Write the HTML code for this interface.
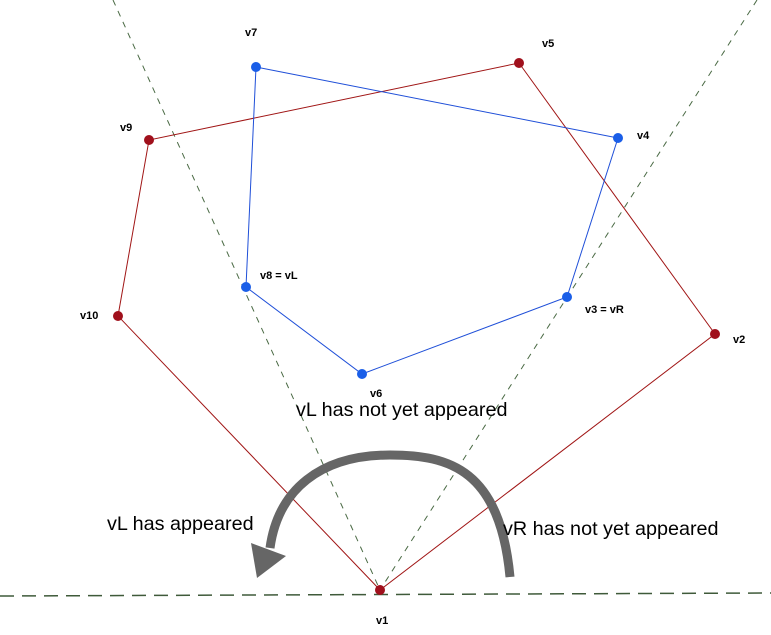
<!DOCTYPE html>
<html><head><style>body{margin:0;background:#fff}svg{display:block}</style></head><body>
<svg width="771" height="635" viewBox="0 0 771 635" xmlns="http://www.w3.org/2000/svg" font-family="Liberation Sans, sans-serif">
<g stroke="#4a6a44" stroke-width="1" stroke-dasharray="6,6" fill="none">
<line x1="113" y1="0" x2="380" y2="590"/>
<line x1="757" y1="0" x2="380" y2="590"/>
</g>
<line x1="0" y1="596" x2="771" y2="593" stroke="#3f5a3a" stroke-width="1.5" stroke-dasharray="14,8"/>
<polyline points="380,590 118,316 149,140 519,63 715,334 380,590" fill="none" stroke="#a01515" stroke-width="1"/>
<polygon points="256,67 618,138 567,297 362,374 246,287" fill="none" stroke="#1f4fd8" stroke-width="1"/>
<path d="M510 577 C 500 470, 450 455, 390 455 C 320 455, 278 490, 270 548" fill="none" stroke="#666" stroke-width="9"/>
<polygon points="257,578 251,543 286,556" fill="#666"/>
<g fill="#a0101c">
<circle cx="380" cy="590" r="5"/><circle cx="715" cy="334" r="5"/><circle cx="519" cy="63" r="5"/><circle cx="149" cy="140" r="5"/><circle cx="118" cy="316" r="5"/>
</g>
<g fill="#1a5ee8">
<circle cx="256" cy="67" r="5"/><circle cx="618" cy="138" r="5"/><circle cx="567" cy="297" r="5"/><circle cx="362" cy="374" r="5"/><circle cx="246" cy="287" r="5"/>
</g>
<g font-size="11" font-weight="bold" fill="#000">
<text x="245" y="36">v7</text><text x="542" y="47">v5</text><text x="120" y="131">v9</text><text x="637" y="139">v4</text>
<text x="260" y="279">v8 = vL</text><text x="585" y="313">v3 = vR</text><text x="80" y="319">v10</text><text x="733" y="343">v2</text>
<text x="370" y="397">v6</text><text x="376" y="624">v1</text>
</g>
<g font-size="19.8" fill="#000">
<text x="296" y="416">vL has not yet appeared</text>
<text x="107" y="530">vL has appeared</text>
<text x="503" y="535">vR has not yet appeared</text>
</g>
</svg>
</body></html>
